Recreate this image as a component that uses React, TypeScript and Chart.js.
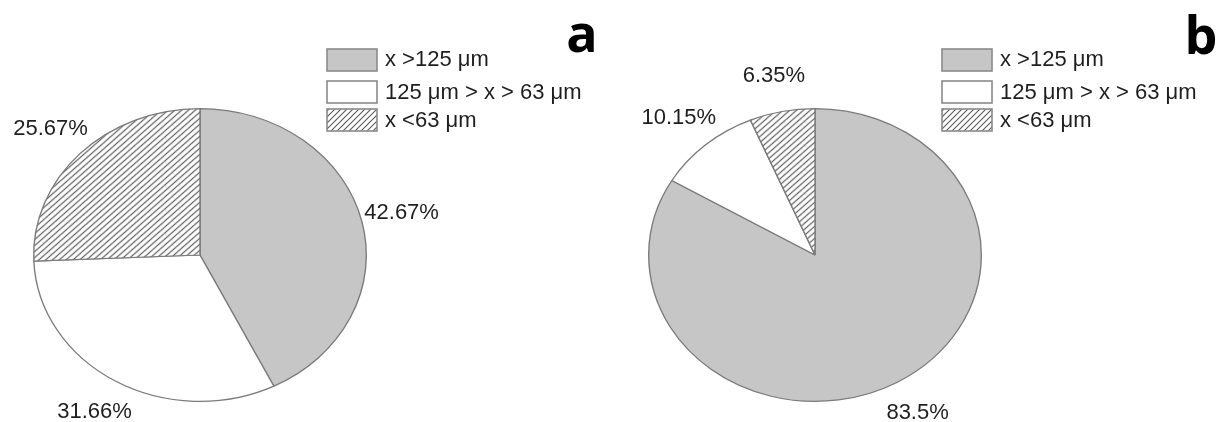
import React, { useEffect, useRef } from 'react';
import { Chart, registerables } from 'chart.js';

Chart.register(...registerables);

// ---- data ----
const categories = ['x >125 μm', '125 μm > x > 63 μm', 'x <63 μm'];
const valuesA = [42.67, 31.66, 25.67];
const valuesB = [83.5, 10.15, 6.35];
const percentLabelsA = ['42.67%', '31.66%', '25.67%'];
const percentLabelsB = ['83.5%', '10.15%', '6.35%'];
const panelLetters = ['a', 'b'];

const GRAY = '#c6c6c6';
const EDGE = '#7a7a7a';
const TEXT = '#1e1e1e';
const FONT = '"Liberation Sans", Arial, sans-serif';

function makeHatch(): CanvasPattern | string {
  const s = 6;
  const c = document.createElement('canvas');
  c.width = s;
  c.height = s;
  const g = c.getContext('2d');
  if (!g) return '#ddd';
  g.fillStyle = '#ffffff';
  g.fillRect(0, 0, s, s);
  g.strokeStyle = '#5a5a5a';
  g.lineWidth = 1.1;
  g.beginPath();
  g.moveTo(0, s);
  g.lineTo(s, 0);
  g.moveTo(-1, 1);
  g.lineTo(1, -1);
  g.moveTo(s - 1, s + 1);
  g.lineTo(s + 1, s - 1);
  g.stroke();
  return g.createPattern(c, 'repeat') || '#ddd';
}

const ellipsePlugin = {
  id: 'ellipse',
  beforeDatasetsDraw(chart: any, _args: any, opts: any) {
    const arc = chart.getDatasetMeta(0).data[0];
    if (!arc) return;
    const ctx = chart.ctx;
    ctx.save();
    ctx.translate(arc.x, arc.y);
    ctx.scale(opts.sx || 1, 1);
    ctx.translate(-arc.x, -arc.y);
  },
  afterDatasetsDraw(chart: any) {
    chart.ctx.restore();
  },
};

const decorPlugin = {
  id: 'decor',
  afterDraw(chart: any, _args: any, opts: any) {
    const ctx = chart.ctx;
    const meta = chart.getDatasetMeta(0);
    const sx = chart.options.plugins.ellipse.sx || 1;
    const ds = chart.data.datasets[0];
    ctx.save();
    // percent labels
    ctx.font = `22px ${FONT}`;
    ctx.fillStyle = TEXT;
    ctx.textAlign = 'center';
    ctx.textBaseline = 'middle';
    meta.data.forEach((arc: any, i: number) => {
      const mid = (arc.startAngle + arc.endAngle) / 2;
      const r = arc.outerRadius * 1.245;
      const px = arc.x + Math.cos(mid) * r * sx;
      const py = arc.y + Math.sin(mid) * r;
      ctx.fillText(opts.pctLabels[i], px, py);
    });
    // legend
    const lx = opts.legendX;
    const rows = [49, 81, 109];
    const textYs = [60, 93, 121];
    chart.data.labels.forEach((lab: string, i: number) => {
      ctx.fillStyle = ds.backgroundColor[i];
      ctx.fillRect(lx, rows[i], 50, 22);
      ctx.strokeStyle = '#8a8a8a';
      ctx.lineWidth = 1.6;
      ctx.strokeRect(lx, rows[i], 50, 22);
      ctx.fillStyle = TEXT;
      ctx.textAlign = 'left';
      ctx.textBaseline = 'middle';
      ctx.font = `22px ${FONT}`;
      ctx.fillText(lab, lx + 58, textYs[i]);
    });
    // panel letter
    ctx.fillStyle = '#000';
    ctx.font = `bold 52px "Open Sans", "DejaVu Sans", sans-serif`;
    ctx.textAlign = 'center';
    ctx.textBaseline = 'alphabetic';
    ctx.fillText(opts.letter, opts.letterX, opts.letterY);
    ctx.restore();
  },
};

type PanelProps = {
  values: number[];
  pctLabels: string[];
  letter: string;
  padLeft: number;
  padRight: number;
  legendX: number;
  letterX: number;
  letterY: number;
};

function PiePanel(props: PanelProps) {
  const ref = useRef<HTMLCanvasElement | null>(null);
  useEffect(() => {
    if (!ref.current) return;
    const hatch = makeHatch();
    const chart = new Chart(ref.current, {
      type: 'pie',
      data: {
        labels: categories,
        datasets: [
          {
            data: props.values,
            backgroundColor: [GRAY, '#ffffff', hatch as any],
            borderColor: EDGE,
            borderWidth: 1.2,
            hoverOffset: 0,
            offset: 0,
          } as any,
        ],
      },
      options: {
        animation: false,
        responsive: true,
        maintainAspectRatio: false,
        events: [],
        layout: {
          padding: { left: props.padLeft, right: props.padRight, top: 108, bottom: 20 },
        },
        plugins: {
          legend: { display: false },
          tooltip: { enabled: false },
          ellipse: { sx: 167 / 147 },
          decor: {
            pctLabels: props.pctLabels,
            legendX: props.legendX,
            letter: props.letter,
            letterX: props.letterX,
            letterY: props.letterY,
          },
        } as any,
      },
      plugins: [ellipsePlugin, decorPlugin],
    });
    return () => chart.destroy();
  }, []);
  return (
    <div style={{ position: 'relative', width: 609, height: 422 }}>
      <canvas ref={ref} />
    </div>
  );
}

export default function App() {
  return (
    <div
      style={{
        position: 'fixed',
        left: 0,
        top: 0,
        width: 1218,
        height: 422,
        background: '#ffffff',
        display: 'flex',
      }}
    >
      <PiePanel
        values={valuesA}
        pctLabels={percentLabelsA}
        letter={panelLetters[0]}
        padLeft={53}
        padRight={262}
        legendX={327}
        letterX={582}
        letterY={52}
      />
      <PiePanel
        values={valuesB}
        pctLabels={percentLabelsB}
        letter={panelLetters[1]}
        padLeft={59}
        padRight={256}
        legendX={333}
        letterX={592}
        letterY={54}
      />
    </div>
  );
}
